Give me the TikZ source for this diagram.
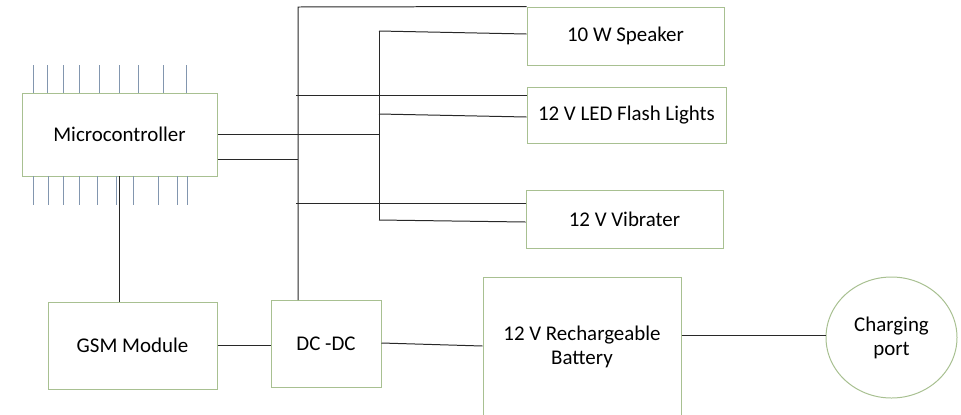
\documentclass[tikz,border=0pt]{standalone}
\usepackage{fontspec}
\setmainfont{Carlito}
\usetikzlibrary{shapes.geometric}
\definecolor{boxc}{RGB}{168,192,145}
\definecolor{pinc}{RGB}{130,150,175}
\definecolor{wirec}{RGB}{40,40,40}
\tikzset{
  blk/.style={draw=boxc, line width=1pt, rectangle, inner sep=0pt, font=\fontsize{21}{24}\selectfont, align=center},
  wire/.style={draw=wirec, line width=1pt},
  pin/.style={draw=pinc, line width=1pt}
}
\begin{document}
\begin{tikzpicture}[x=1bp,y=-1bp]
\useasboundingbox (0,0) rectangle (961,414);
% blocks
\node[blk, minimum width=195bp, minimum height=83bp] (mcu) at (119.5,134.5) {Microcontroller};
\node[blk, minimum width=169bp, minimum height=87bp] (gsm) at (132.5,345.5) {GSM Module};
\node[blk, minimum width=110bp, minimum height=87bp] (dc) at (326,343.5) {DC -DC};
\node[blk, minimum width=198bp, minimum height=140bp] (bat) at (582,347) {12 V Rechargeable\\Battery};
\node[blk, draw, ellipse, minimum width=131bp, minimum height=121bp] (chg) at (891.5,337.5) {Charging\\port};
\node[blk, minimum width=197bp, minimum height=58bp] (spk) at (625.5,36) {10 W Speaker};
\node[blk, minimum width=199bp, minimum height=56bp] (led) at (626.5,115) {12 V LED Flash Lights};
\node[blk, minimum width=197bp, minimum height=58bp] (vib) at (624.5,219) {12 V Vibrater};
% pins
\foreach \px in {33,47,63,79,99,119,138,163,186}
  \draw[pin] (\px,65) -- (\px,93);
\foreach \px in {33,48,63,79,97,116,133,158,177,187}
  \draw[pin] (\px,176) -- (\px,205);
% bus coordinates
\coordinate (ot) at (298,7);
\coordinate (ob) at (298,300);
\coordinate (it) at (379,31);
\coordinate (ib) at (379,220);
\draw[wire] (ob) -- (ot) -- (spk.north west);
\draw[wire] (it) -- (ib);
% mcu outputs
\draw[wire] (mcu.east |- 0,134) -- (it |- 0,134);
\draw[wire] (mcu.east |- 0,159) -- (ot |- 0,159);
% inner bus to loads
\draw[wire] (it) -- (spk.west |- 0,34);
\draw[wire] (379,114) -- (led.west |- 0,117);
\draw[wire] (ib) -- (vib.west |- 0,222);
% outer bus to loads
\draw[wire] (296,95) -- (led.west |- 0,95);
\draw[wire] (296,203) -- (vib.west |- 0,203);
% lower connections
\draw[wire] (119,176) -- (gsm.north -| 119,0);
\draw[wire] (gsm.east |- 0,345) -- (dc.west |- 0,345);
\draw[wire] (dc.east |- 0,343) -- (bat.west |- 0,346);
\draw[wire] (bat.east |- 0,335) -- (chg.west |- 0,335);
\end{tikzpicture}
\end{document}
